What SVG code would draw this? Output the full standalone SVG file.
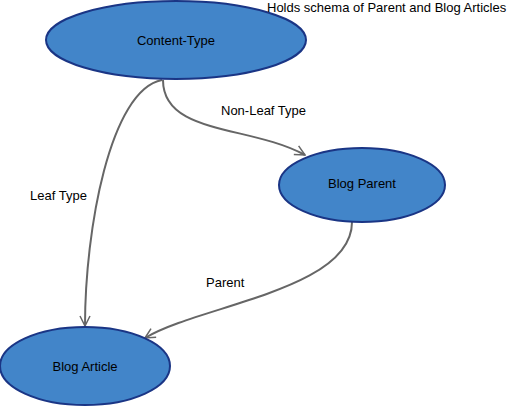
<svg xmlns="http://www.w3.org/2000/svg" width="509" height="407" viewBox="0 0 509 407">
<style>
.node{fill:#4285c9;stroke:#1a3585;stroke-width:2}
.edge{fill:none;stroke:#666;stroke-width:2}
text{font-family:"Liberation Sans",Arial,sans-serif;font-size:13px;fill:#000}
.c{text-anchor:middle}
</style>
<defs>
<marker id="arr" viewBox="0 0 12 12" refX="11" refY="6" markerWidth="12" markerHeight="12" markerUnits="userSpaceOnUse" orient="auto">
<path d="M1,1 L11,6 L1,11" fill="none" stroke="#666" stroke-width="1.5"/>
</marker>
</defs>
<rect width="509" height="407" fill="#fff"/>
<g id="connectors">
<path class="edge" d="M162,80 C110,90 85,230 85,326" marker-end="url(#arr)"/>
<path class="edge" d="M163,80 C163,135 250,125 305,155" marker-end="url(#arr)"/>
<path class="edge" d="M352,222 C352,290 200,305 145,338" marker-end="url(#arr)"/>
<text x="221" y="115">Non-Leaf Type</text>
<text x="30" y="200">Leaf Type</text>
<text x="206" y="287">Parent</text>
</g>
<g id="content-type">
<ellipse class="node" cx="176" cy="40" rx="130" ry="39"/>
<text class="c" x="176" y="45">Content-Type</text>
</g>
<g id="blog-parent">
<ellipse class="node" cx="362" cy="185" rx="83" ry="37"/>
<text class="c" x="362" y="188">Blog Parent</text>
</g>
<g id="blog-article">
<ellipse class="node" cx="85" cy="366" rx="85" ry="39"/>
<text class="c" x="85" y="371">Blog Article</text>
</g>
<g id="note">
<text x="267" y="12">Holds schema of Parent and Blog Articles</text>
</g>
</svg>
